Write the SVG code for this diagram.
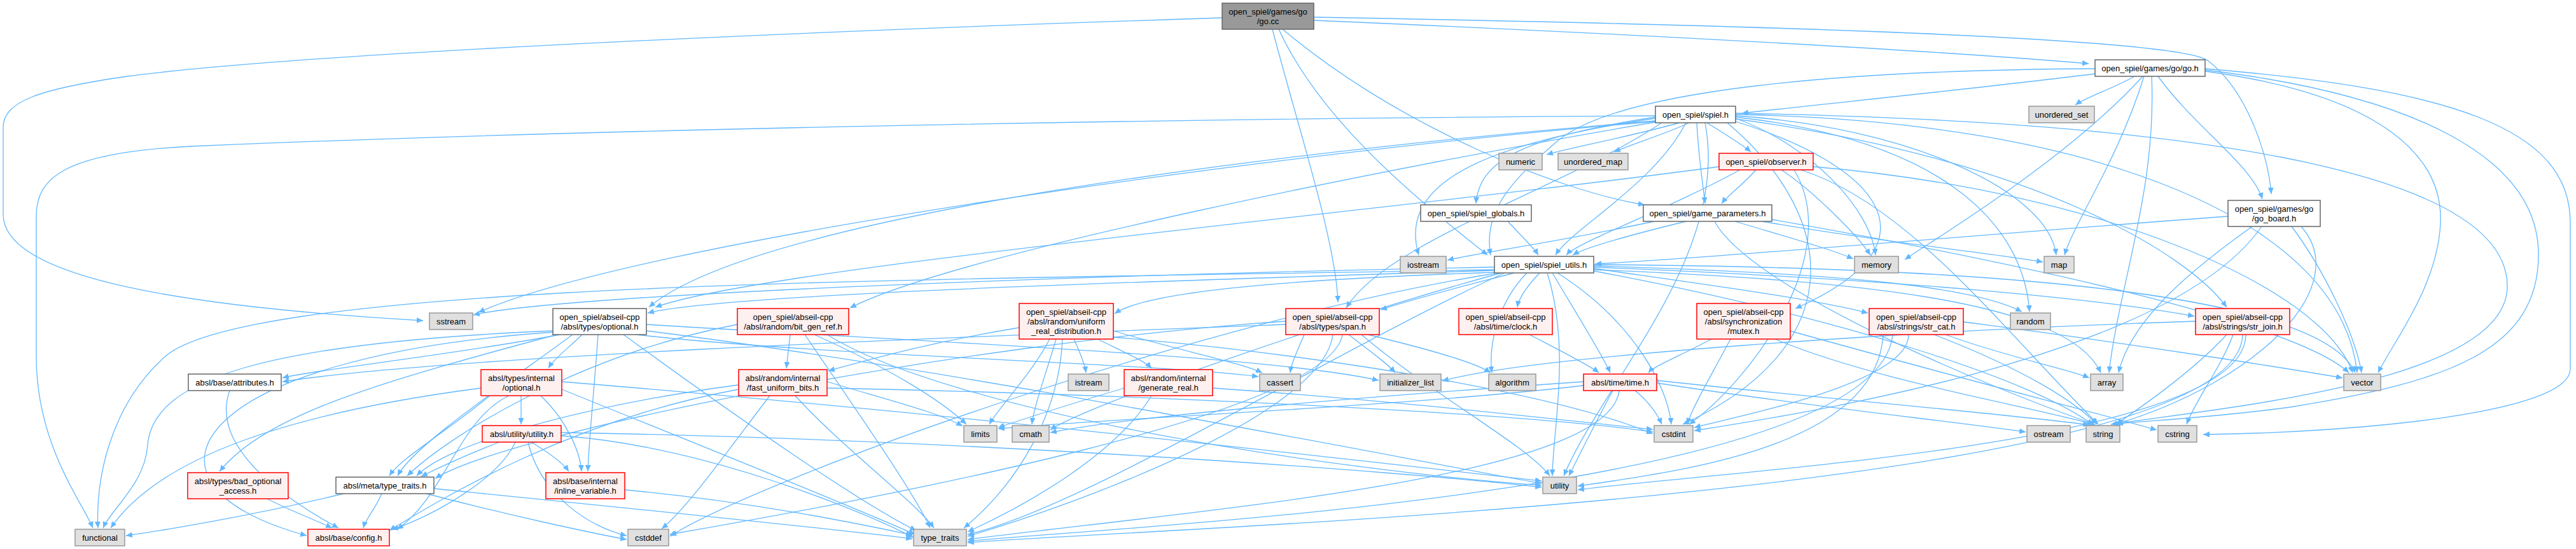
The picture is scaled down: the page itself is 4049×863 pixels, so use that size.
<svg xmlns="http://www.w3.org/2000/svg" width="4049" height="863" viewBox="0 0 4049 863">
<defs>
<marker id="a" markerUnits="userSpaceOnUse" markerWidth="11" markerHeight="9" refX="10" refY="4.5" orient="auto"><path d="M0,0 L10,4.5 L0,9 z" fill="#63b8ff"/></marker>
<style>
.n rect{fill:#ffffff;stroke:#666666;stroke-width:1.5}
.g rect{fill:#e0e0e0;stroke:#999999;stroke-width:1.5}
.r rect{fill:#fff0f0;stroke:#ff0000;stroke-width:1.5}
.m rect{fill:#999999;stroke:#666666;stroke-width:1.5}
text{font-family:"Liberation Sans",Arial,Helvetica,sans-serif;font-size:13px;text-anchor:middle;fill:#000000}
#edges path{fill:none;stroke:#63b8ff;stroke-width:1.3;marker-end:url(#a)}
</style>
</defs>
<rect width="4049" height="863" fill="#ffffff"/>
<g id="edges">
<path d="M1921,28 C1400,45 500,80 200,120 C60,140 5,160 5,200 L5,337 C5,430 250,480 665,504"/>
<path d="M2065,32 C2600,55 3050,80 3283,100"/>
<path d="M2065,27 C2800,40 3420,60 3470,95 C3530,140 3565,240 3570,305"/>
<path d="M2016,46 C2200,200 2450,300 2585,322"/>
<path d="M2000,46 C2040,200 2100,380 2103,475"/>
<path d="M2010,46 C2080,200 2250,330 2338,401"/>
<path d="M3355,120 C3320,140 3280,152 3262,165"/>
<path d="M3293,116 C3100,140 2850,165 2738,178"/>
<path d="M3370,120 C3330,250 3260,350 3245,401"/>
<path d="M3392,120 C3450,200 3540,260 3556,313"/>
<path d="M3382,120 C3390,300 3330,450 3315,586"/>
<path d="M3368,120 C3250,250 3050,370 2994,408"/>
<path d="M3293,108 C2900,110 2550,140 2450,220 C2380,280 2330,330 2343,401"/>
<path d="M3466,112 C3750,150 3840,250 3836,350 C3832,450 3760,540 3738,586"/>
<path d="M3466,110 C3800,150 3990,250 3990,400 C3990,550 3850,600 3600,640 C3450,660 3350,662 3327,667"/>
<path d="M3466,108 C3850,140 4040,200 4040,350 L4040,580 C4040,650 3700,680 3463,683"/>
<path d="M2640,193 C2560,215 2470,232 2431,243"/>
<path d="M2655,193 C2620,210 2560,228 2537,239"/>
<path d="M2683,193 C2710,210 2740,228 2752,239"/>
<path d="M2667,193 C2670,250 2678,300 2680,320"/>
<path d="M2602,184 C2400,215 2325,250 2320,320"/>
<path d="M2650,193 C2600,290 2470,360 2445,401"/>
<path d="M2602,186 C2300,230 2200,300 2230,401"/>
<path d="M2728,186 C2850,230 2940,330 2948,401"/>
<path d="M2728,182 C3000,200 3220,300 3232,401"/>
<path d="M2728,184 C3050,220 3180,350 3190,490"/>
<path d="M2728,180 C3300,190 3680,350 3705,586"/>
<path d="M2728,178 C3400,190 3941,260 3941,450 C3941,600 3500,640 3318,667"/>
<path d="M2715,193 C2900,350 2900,550 2645,667"/>
<path d="M2602,182 C2000,185 1000,200 300,230 C100,240 57,280 57,340 L57,560 C57,700 130,790 146,830"/>
<path d="M2680,193 C2720,400 2520,600 2458,748"/>
<path d="M2602,190 C2100,230 1200,330 1020,483"/>
<path d="M2602,192 C2200,260 1500,400 1336,484"/>
<path d="M2612,193 C2450,300 2180,380 2116,484"/>
<path d="M2728,191 C2950,260 3060,380 2822,485"/>
<path d="M2728,187 C3200,250 3440,400 3500,483"/>
<path d="M2602,191 C2000,240 1000,380 752,491"/>
<path d="M2370,348 C2390,370 2410,388 2418,401"/>
<path d="M2760,267 C2740,290 2715,308 2706,320"/>
<path d="M2735,267 C2620,330 2480,380 2462,401"/>
<path d="M2800,267 C2850,300 2920,370 2940,401"/>
<path d="M2830,267 C3000,320 3150,520 3298,667"/>
<path d="M2850,262 C3300,300 3650,450 3698,586"/>
<path d="M2702,262 C2200,330 1200,420 1030,483"/>
<path d="M2820,267 C2900,400 2750,600 2655,667"/>
<path d="M2650,348 C2560,370 2490,390 2472,401"/>
<path d="M2600,348 C2450,380 2320,398 2275,409"/>
<path d="M2727,348 C2800,370 2880,392 2913,407"/>
<path d="M2770,348 C2950,380 3150,400 3211,412"/>
<path d="M2695,348 C2750,450 3100,600 3292,667"/>
<path d="M2785,345 C3100,400 3600,500 3692,586"/>
<path d="M3502,340 C3100,370 2700,405 2507,415"/>
<path d="M3540,356 C3450,420 3350,500 3330,586"/>
<path d="M3555,356 C3420,550 2900,640 2663,677"/>
<path d="M3602,356 C3650,420 3700,520 3712,586"/>
<path d="M3617,356 C3700,450 3550,600 3322,668"/>
<path d="M2349,425 C1900,440 1150,460 1018,492"/>
<path d="M2349,420 C1800,430 900,460 744,495"/>
<path d="M2349,424 C1500,440 400,440 260,560 C170,640 150,760 154,830"/>
<path d="M2349,428 C2000,440 1800,460 1752,493"/>
<path d="M2380,429 C2300,450 2220,470 2170,487"/>
<path d="M2420,429 C2400,450 2387,470 2385,483"/>
<path d="M2440,429 C2470,480 2520,560 2531,586"/>
<path d="M2505,422 C2700,450 2850,470 2936,492"/>
<path d="M2505,418 C2900,430 3100,450 3178,490"/>
<path d="M2505,420 C3000,440 3300,470 3449,497"/>
<path d="M2505,424 C2900,440 3250,470 3302,586"/>
<path d="M2505,416 C3200,420 3650,470 3702,586"/>
<path d="M2448,429 C2560,500 2620,600 2627,667"/>
<path d="M2432,429 C2470,550 2440,680 2440,748"/>
<path d="M2505,426 C2900,500 3200,600 3290,668"/>
<path d="M2360,429 C2100,500 1700,640 1651,676"/>
<path d="M2365,429 C2100,550 1700,800 1521,840"/>
<path d="M2355,429 C1900,500 1200,750 1053,843"/>
<path d="M2400,429 C2350,480 2340,550 2345,586"/>
<path d="M880,526 C700,560 500,580 444,594"/>
<path d="M915,526 C890,550 870,565 862,579"/>
<path d="M940,526 C935,600 925,700 924,741"/>
<path d="M900,526 C800,600 650,700 625,748"/>
<path d="M875,526 C600,600 420,650 345,741"/>
<path d="M869,520 C400,540 240,600 232,700 C228,760 175,800 162,830"/>
<path d="M872,522 C300,560 180,760 482,842"/>
<path d="M1000,526 C1300,560 1800,570 1978,592"/>
<path d="M1016,510 C1500,540 2000,560 2167,598"/>
<path d="M980,526 C1150,650 1350,790 1440,834"/>
<path d="M1016,520 C1500,580 2200,720 2423,760"/>
<path d="M819,622 L819,667"/>
<path d="M850,622 C890,660 912,710 914,741"/>
<path d="M770,622 C700,680 630,720 612,748"/>
<path d="M756,610 C450,650 250,720 174,830"/>
<path d="M883,612 C1100,700 1350,800 1438,840"/>
<path d="M883,600 C1500,650 2100,720 2423,756"/>
<path d="M800,622 C720,660 700,780 624,832"/>
<path d="M785,695 C720,720 680,740 662,749"/>
<path d="M810,695 C780,760 660,820 616,832"/>
<path d="M835,695 C860,710 885,728 894,741"/>
<path d="M830,695 C850,780 930,830 985,842"/>
<path d="M882,685 C1100,700 1350,800 1436,845"/>
<path d="M882,680 C1500,690 2200,740 2423,766"/>
<path d="M540,776 C400,810 250,835 198,842"/>
<path d="M600,776 C590,800 575,815 571,830"/>
<path d="M670,776 C800,810 930,838 985,848"/>
<path d="M682,768 C900,790 1300,830 1434,847"/>
<path d="M420,784 C450,800 490,815 522,830"/>
<path d="M361,614 C330,700 440,780 532,830"/>
<path d="M982,770 C1200,790 1380,830 1434,841"/>
<path d="M1242,526 L1236,579"/>
<path d="M1280,526 C1400,580 1480,630 1519,667"/>
<path d="M1265,526 C1350,650 1440,780 1462,830"/>
<path d="M1300,526 C1500,650 2100,740 2423,763"/>
<path d="M1159,510 C900,560 700,690 640,748"/>
<path d="M1210,622 C1150,700 1080,800 1040,831"/>
<path d="M1250,622 C1320,700 1440,790 1468,830"/>
<path d="M1300,600 C1400,630 1480,650 1513,670"/>
<path d="M1300,610 C1800,620 2400,650 2598,679"/>
<path d="M1161,605 C900,640 700,700 655,748"/>
<path d="M1161,612 C900,660 700,780 612,834"/>
<path d="M1650,533 C1620,590 1570,640 1555,667"/>
<path d="M1660,533 C1640,600 1625,640 1622,667"/>
<path d="M1688,533 C1698,555 1705,572 1707,586"/>
<path d="M1725,533 C1770,555 1800,568 1810,579"/>
<path d="M1750,520 C1850,550 1950,570 1984,586"/>
<path d="M1602,515 C1450,540 1350,570 1302,583"/>
<path d="M1670,533 C1665,650 1600,760 1515,830"/>
<path d="M1750,530 C2100,560 2450,620 2598,682"/>
<path d="M1767,610 C1700,630 1620,655 1569,672"/>
<path d="M1810,622 C1750,720 1600,800 1521,836"/>
<path d="M1906,610 C2200,630 2450,660 2598,675"/>
<path d="M2050,526 C2040,550 2030,570 2028,586"/>
<path d="M2120,526 C2150,550 2180,570 2193,586"/>
<path d="M2150,526 C2250,550 2320,570 2343,586"/>
<path d="M2140,526 C2250,620 2400,700 2436,748"/>
<path d="M2095,526 C2080,650 1700,790 1521,843"/>
<path d="M2110,526 C2090,650 1400,780 1053,840"/>
<path d="M2021,505 C1500,540 800,680 684,752"/>
<path d="M2021,510 C1500,530 700,560 444,600"/>
<path d="M2404,526 C2450,550 2500,575 2513,586"/>
<path d="M2690,533 C2640,560 2600,575 2591,586"/>
<path d="M2720,533 C2690,590 2660,640 2652,667"/>
<path d="M2790,533 C2950,600 3200,640 3294,668"/>
<path d="M2813,520 C3100,600 3300,650 3390,676"/>
<path d="M2570,614 C2590,630 2605,650 2612,667"/>
<path d="M2535,614 C2510,660 2480,720 2466,748"/>
<path d="M2489,600 C2200,620 1800,650 1651,680"/>
<path d="M2489,606 C2200,640 1700,660 1569,674"/>
<path d="M2604,602 C2850,640 3050,660 3184,679"/>
<path d="M2604,598 C2900,630 3150,650 3284,668"/>
<path d="M2545,614 C2530,750 1900,800 1521,848"/>
<path d="M3058,526 C3150,560 3250,580 3284,594"/>
<path d="M3040,526 C3180,580 3260,630 3296,667"/>
<path d="M3086,506 C3350,540 3600,580 3682,594"/>
<path d="M3000,526 C3000,600 2750,650 2663,672"/>
<path d="M2960,526 C2950,700 2650,740 2480,764"/>
<path d="M2975,526 C2950,780 1700,830 1521,851"/>
<path d="M3500,526 C3450,580 3380,630 3326,667"/>
<path d="M3510,526 C3490,580 3450,630 3437,667"/>
<path d="M3525,526 C3520,780 1800,830 1521,853"/>
<path d="M3530,526 C3530,700 2700,740 2480,770"/>
<path d="M3451,505 C3000,520 2400,560 2267,599"/>
</g>
<g id="n_go_cc" class="m"><rect x="1921" y="5" width="144" height="41"/><text x="1993" y="23">open_spiel/games/go</text><text x="1993" y="38">/go.cc</text></g>
<g id="n_go_h" class="n"><rect x="3293" y="94" width="173" height="26"/><text x="3379.5" y="111.5">open_spiel/games/go/go.h</text></g>
<g id="n_unordered_set" class="g"><rect x="3189" y="167" width="103" height="26"/><text x="3240.5" y="184.5">unordered_set</text></g>
<g id="n_spiel_h" class="n"><rect x="2602" y="167" width="126" height="26"/><text x="2665" y="184.5">open_spiel/spiel.h</text></g>
<g id="n_numeric" class="g"><rect x="2356" y="241" width="68" height="26"/><text x="2390" y="258.5">numeric</text></g>
<g id="n_unordered_map" class="g"><rect x="2449" y="241" width="110" height="26"/><text x="2504" y="258.5">unordered_map</text></g>
<g id="n_observer" class="r"><rect x="2702" y="241" width="148" height="26"/><text x="2776" y="258.5">open_spiel/observer.h</text></g>
<g id="n_spiel_globals" class="n"><rect x="2233" y="322" width="174" height="26"/><text x="2320" y="339.5">open_spiel/spiel_globals.h</text></g>
<g id="n_game_parameters" class="n"><rect x="2583" y="322" width="202" height="26"/><text x="2684" y="339.5">open_spiel/game_parameters.h</text></g>
<g id="n_go_board" class="n"><rect x="3502" y="315" width="145" height="41"/><text x="3574.5" y="333">open_spiel/games/go</text><text x="3574.5" y="348">/go_board.h</text></g>
<g id="n_iostream" class="g"><rect x="2201" y="403" width="72" height="26"/><text x="2237" y="420.5">iostream</text></g>
<g id="n_spiel_utils" class="n"><rect x="2349" y="403" width="156" height="26"/><text x="2427" y="420.5">open_spiel/spiel_utils.h</text></g>
<g id="n_memory" class="g"><rect x="2915" y="403" width="69" height="26"/><text x="2949.5" y="420.5">memory</text></g>
<g id="n_map" class="g"><rect x="3213" y="403" width="47" height="26"/><text x="3236.5" y="420.5">map</text></g>
<g id="n_sstream" class="g"><rect x="675" y="492" width="68" height="26"/><text x="709" y="509.5">sstream</text></g>
<g id="n_optional" class="n"><rect x="869" y="485" width="147" height="41"/><text x="942.5" y="503">open_spiel/abseil-cpp</text><text x="942.5" y="518">/absl/types/optional.h</text></g>
<g id="n_bit_gen_ref" class="r"><rect x="1159" y="485" width="175" height="41"/><text x="1246.5" y="503">open_spiel/abseil-cpp</text><text x="1246.5" y="518">/absl/random/bit_gen_ref.h</text></g>
<g id="n_uniform_real" class="r"><rect x="1602" y="477" width="148" height="56"/><text x="1676" y="495">open_spiel/abseil-cpp</text><text x="1676" y="510">/absl/random/uniform</text><text x="1676" y="525">_real_distribution.h</text></g>
<g id="n_span" class="r"><rect x="2021" y="485" width="147" height="41"/><text x="2094.5" y="503">open_spiel/abseil-cpp</text><text x="2094.5" y="518">/absl/types/span.h</text></g>
<g id="n_clock" class="r"><rect x="2293" y="485" width="147" height="41"/><text x="2366.5" y="503">open_spiel/abseil-cpp</text><text x="2366.5" y="518">/absl/time/clock.h</text></g>
<g id="n_mutex" class="r"><rect x="2667" y="477" width="147" height="56"/><text x="2740.5" y="495">open_spiel/abseil-cpp</text><text x="2740.5" y="510">/absl/synchronization</text><text x="2740.5" y="525">/mutex.h</text></g>
<g id="n_str_cat" class="r"><rect x="2938" y="485" width="148" height="41"/><text x="3012" y="503">open_spiel/abseil-cpp</text><text x="3012" y="518">/absl/strings/str_cat.h</text></g>
<g id="n_random" class="g"><rect x="3160" y="492" width="63" height="26"/><text x="3191.5" y="509.5">random</text></g>
<g id="n_str_join" class="r"><rect x="3451" y="485" width="148" height="41"/><text x="3525" y="503">open_spiel/abseil-cpp</text><text x="3525" y="518">/absl/strings/str_join.h</text></g>
<g id="n_attributes" class="n"><rect x="296" y="588" width="146" height="26"/><text x="369" y="605.5">absl/base/attributes.h</text></g>
<g id="n_int_optional" class="r"><rect x="756" y="581" width="127" height="41"/><text x="819.5" y="599">absl/types/internal</text><text x="819.5" y="614">/optional.h</text></g>
<g id="n_fast_uniform_bits" class="r"><rect x="1161" y="581" width="139" height="41"/><text x="1230.5" y="599">absl/random/internal</text><text x="1230.5" y="614">/fast_uniform_bits.h</text></g>
<g id="n_istream" class="g"><rect x="1679" y="588" width="64" height="26"/><text x="1711" y="605.5">istream</text></g>
<g id="n_generate_real" class="r"><rect x="1767" y="581" width="139" height="41"/><text x="1836.5" y="599">absl/random/internal</text><text x="1836.5" y="614">/generate_real.h</text></g>
<g id="n_cassert" class="g"><rect x="1980" y="588" width="64" height="26"/><text x="2012" y="605.5">cassert</text></g>
<g id="n_initializer_list" class="g"><rect x="2169" y="588" width="96" height="26"/><text x="2217" y="605.5">initializer_list</text></g>
<g id="n_algorithm" class="g"><rect x="2340" y="588" width="74" height="26"/><text x="2377" y="605.5">algorithm</text></g>
<g id="n_time" class="r"><rect x="2489" y="588" width="115" height="26"/><text x="2546.5" y="605.5">absl/time/time.h</text></g>
<g id="n_array" class="g"><rect x="3286" y="588" width="51" height="26"/><text x="3311.5" y="605.5">array</text></g>
<g id="n_vector" class="g"><rect x="3684" y="588" width="58" height="26"/><text x="3713" y="605.5">vector</text></g>
<g id="n_utility_h" class="r"><rect x="758" y="669" width="124" height="26"/><text x="820" y="686.5">absl/utility/utility.h</text></g>
<g id="n_limits" class="g"><rect x="1515" y="669" width="52" height="26"/><text x="1541" y="686.5">limits</text></g>
<g id="n_cmath" class="g"><rect x="1591" y="669" width="58" height="26"/><text x="1620" y="686.5">cmath</text></g>
<g id="n_cstdint" class="g"><rect x="2600" y="669" width="61" height="26"/><text x="2630.5" y="686.5">cstdint</text></g>
<g id="n_ostream" class="g"><rect x="3186" y="669" width="68" height="26"/><text x="3220" y="686.5">ostream</text></g>
<g id="n_string" class="g"><rect x="3279" y="669" width="53" height="26"/><text x="3305.5" y="686.5">string</text></g>
<g id="n_cstring" class="g"><rect x="3392" y="669" width="61" height="26"/><text x="3422.5" y="686.5">cstring</text></g>
<g id="n_bad_optional" class="r"><rect x="295" y="743" width="158" height="41"/><text x="374" y="761">absl/types/bad_optional</text><text x="374" y="776">_access.h</text></g>
<g id="n_meta_type_traits" class="n"><rect x="528" y="750" width="154" height="26"/><text x="605" y="767.5">absl/meta/type_traits.h</text></g>
<g id="n_inline_variable" class="r"><rect x="858" y="743" width="124" height="41"/><text x="920" y="761">absl/base/internal</text><text x="920" y="776">/inline_variable.h</text></g>
<g id="n_utility" class="g"><rect x="2425" y="750" width="53" height="26"/><text x="2451.5" y="767.5">utility</text></g>
<g id="n_functional" class="g"><rect x="118" y="832" width="78" height="26"/><text x="157" y="849.5">functional</text></g>
<g id="n_config" class="r"><rect x="484" y="832" width="128" height="26"/><text x="548" y="849.5">absl/base/config.h</text></g>
<g id="n_cstddef" class="g"><rect x="987" y="832" width="64" height="26"/><text x="1019" y="849.5">cstddef</text></g>
<g id="n_type_traits" class="g"><rect x="1436" y="832" width="83" height="26"/><text x="1477.5" y="849.5">type_traits</text></g>
</svg>
